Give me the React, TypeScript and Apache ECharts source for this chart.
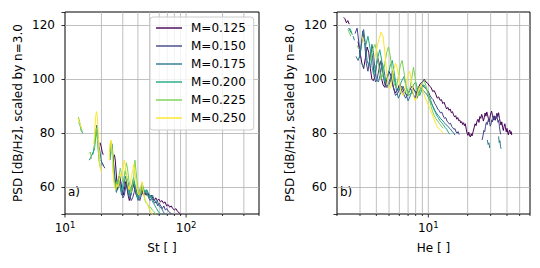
import React, { useEffect, useRef } from 'react';
import * as echarts from 'echarts';

type Pt = [number, number | null];

const FONT = 'DejaVu Sans';

const seriesNames = ['M=0.125', 'M=0.150', 'M=0.175', 'M=0.200', 'M=0.225', 'M=0.250'];
const seriesColors = ['#440154', '#414487', '#2a788e', '#22a884', '#7ad151', '#fde725'];

const yTicks = [60, 80, 100, 120];
const psdRange = [50, 125];
const stRange = [10, 400];
const heRange = [2, 60];
const stGridValues = [10, 20, 30, 40, 50, 60, 70, 80, 90, 100, 200, 300, 400];
const heGridValues = [2, 3, 4, 5, 6, 7, 8, 9, 10, 20, 30, 40, 50, 60];

// ---- panel a) : PSD vs St ----
const stM125: Pt[] = [[19.5, 76.5], [19.9, 75], [20.3, 73], [20.7, 72], [21, null], [25.6, 72], [26.0, 70], [26.4, 66], [26.8, 62], [27.2, 59], [27.7, 61], [28.3, 64], [28.9, 62], [29.5, 59], [30.2, 57], [30.9, 59], [31.6, 62], [32.4, 60], [33.2, 57], [34.0, 55], [34.9, 57], [35.8, 59], [36.8, 61], [37.8, 59], [38.8, 57], [39.9, 56], [41.0, 58], [42.2, 60], [43.4, 58], [44.6, 57], [45.9, 58], [47.2, 57], [48.6, 57.5], [50.0, 56], [51.5, 57], [53.0, 56], [54.6, 55], [56.2, 56], [57.9, 55], [59.6, 55.5], [61.4, 54.5], [63.2, 55], [65.1, 54], [67.0, 54.5], [69.0, 53], [71.1, 53.5], [73.2, 52.5], [75.4, 53], [77.6, 52], [80.0, 51.5], [82.4, 52], [84.8, 51], [87.4, 50.5], [90.0, 50], [92.0, 49.5]];
const stM150: Pt[] = [[19.8, 70], [20.2, 69], [20.6, 68.5], [21.0, 67.5], [21.4, 67], [22, null], [24.5, 73], [24.9, 71], [25.3, 68], [25.8, 64], [26.3, 61], [26.8, 60], [27.4, 62], [28.0, 64], [28.7, 62], [29.4, 59], [30.1, 56], [30.9, 57], [31.7, 60], [32.5, 63], [33.4, 61], [34.3, 57], [35.2, 55], [36.2, 56], [37.2, 58], [38.2, 60], [39.3, 58], [40.4, 56], [41.5, 55], [42.7, 57], [43.9, 59], [45.1, 58], [46.4, 57], [47.7, 58], [49.1, 56], [50.5, 55], [52.0, 56], [53.5, 55], [55.0, 54], [56.6, 54.5], [58.3, 53], [60.0, 54], [61.8, 53], [63.6, 52], [65.5, 53], [67.4, 51.5], [69.4, 52], [71.5, 51], [73.6, 50.5], [75.8, 50], [78.0, 49.5]];
const stM175: Pt[] = [[15.9, 70], [16.3, 71], [16.7, 72], [17.1, 73], [17.5, 74], [17.9, 79], [18.3, 83], [18.7, 79], [19.1, 75], [19.5, 73], [19.9, 70], [20.3, 68], [21, null], [23.8, 72], [24.2, 76.5], [24.6, 75], [25.0, 70], [25.5, 64], [26.0, 60], [26.6, 58], [27.2, 60], [27.9, 62], [28.6, 60], [29.3, 57], [30.0, 58], [30.8, 61], [31.6, 64], [32.4, 62], [33.2, 58], [34.1, 56], [35.0, 57], [36.0, 60], [37.0, 62], [38.0, 60], [39.0, 57], [40.1, 55], [41.2, 56], [42.3, 58], [43.5, 60], [44.7, 59], [46.0, 58], [47.3, 59], [48.6, 58], [50.0, 57], [51.4, 56], [52.9, 57], [54.4, 55.5], [56.0, 54.5], [57.6, 55], [59.3, 53.5], [61.0, 52.5], [62.8, 52], [64.6, 51], [66.5, 50], [68.0, 49.5]];
const stM200: Pt[] = [[13.0, 84], [13.3, 83], [13.6, 81], [14.0, 80], [15, null], [17.0, 72], [17.4, 75], [17.8, 78], [18.2, 80.5], [18.6, 77], [19.0, 72], [19.4, 68], [21, null], [23.6, 70], [24.0, 75.5], [24.4, 76], [24.8, 71], [25.3, 65], [25.8, 61], [26.4, 59], [27.0, 61], [27.7, 63.5], [28.4, 61], [29.1, 58.5], [29.9, 60], [30.7, 63], [31.5, 66], [32.3, 64], [33.1, 60], [34.0, 57.5], [34.9, 59], [35.8, 61], [36.8, 63.5], [37.8, 61], [38.8, 58], [39.8, 56], [40.9, 57], [42.0, 59], [43.1, 61.5], [44.3, 60], [45.5, 58], [46.8, 59], [48.1, 57], [49.4, 56], [50.8, 57], [52.3, 55], [53.8, 54], [55.4, 53], [57.0, 52], [58.7, 51], [60.4, 50.3], [62.0, 49.5]];
const stM225: Pt[] = [[12.9, 86], [13.1, 85], [13.3, 83.5], [13.6, 82], [13.9, 80.5], [14.5, null], [15.8, 72.5], [16.2, 73], [16.6, 70.5], [17, null], [17.4, 74], [17.8, 79], [18.1, 82], [18.4, 80], [18.8, 74], [19.2, 69], [19.6, 67], [21, null], [23.4, 73], [23.8, 77], [24.2, 76], [24.6, 72], [25.0, 66], [25.5, 62], [26.0, 60], [26.6, 62], [27.2, 61], [27.9, 64], [28.6, 67], [29.3, 65], [30.0, 62], [30.7, 63], [31.4, 66], [32.1, 69], [32.8, 67], [33.6, 63], [34.4, 60], [35.2, 58], [36.0, 60], [36.9, 63], [37.8, 70], [38.6, 66], [39.5, 61], [40.4, 58], [41.4, 57], [42.4, 58.5], [43.5, 60], [44.6, 58], [45.8, 55], [47.0, 54], [48.3, 53.5], [49.6, 52], [51.0, 52.5], [52.5, 51.5], [54.0, 51], [55.5, 50.5], [57.0, 49.5]];
const stM250: Pt[] = [[12.8, 85.5], [13.0, 84.5], [13.2, 84], [13.5, 82.5], [13.7, 81.5], [15, null], [17.3, 76], [17.6, 81], [17.9, 86], [18.2, 88], [18.5, 86], [18.8, 80], [19.1, 73], [19.4, 68], [19.8, 66], [20.1, 65.5], [21, null], [23.2, 70], [23.6, 76], [24.0, 77.5], [24.4, 74], [24.8, 68], [25.2, 63], [25.7, 60], [26.2, 59], [26.8, 61], [27.4, 60], [28.0, 62], [28.7, 65], [29.4, 64], [30.1, 67], [30.8, 70], [31.5, 68], [32.2, 64], [33.0, 61], [33.8, 59], [34.6, 61], [35.4, 64], [36.2, 66], [37.0, 68.5], [37.8, 66], [38.6, 62], [39.5, 59], [40.4, 57], [41.3, 58], [42.2, 60], [43.2, 62], [44.2, 59], [45.2, 56], [46.3, 55], [47.4, 54], [48.5, 53], [49.7, 52], [51.0, 51], [52.5, 50], [54.0, 49]];

// ---- panel b) : PSD vs He ----
const heM125: Pt[] = [[2.25, 123], [2.3, 122.5], [2.36, 121], [2.42, 121.8], [2.48, 120.5], [2.55, null], [2.9, 114], [3.0, 110], [3.1, 106], [3.2, 104], [3.3, 108], [3.4, 112], [3.5, 110], [3.6, 104], [3.7, 100], [3.8, 99.5], [3.9, 101], [4.0, 105], [4.1, 108], [4.2, 106], [4.35, 101], [4.5, 98], [4.65, 97], [4.8, 100], [5.0, 103], [5.2, 101], [5.4, 97], [5.6, 95], [5.8, 96], [6.0, 98], [6.3, 97], [6.6, 95], [6.9, 94], [7.2, 96], [7.5, 97.5], [7.8, 96], [8.1, 95], [8.4, 97], [8.7, 98.5], [9.0, 99], [9.3, 100], [9.6, 99], [9.9, 98.5], [10.2, 97.5], [10.5, 97], [10.8, 95.5], [11.1, 95.8], [11.4, 94.5], [11.7, 93], [12.0, 93.5], [12.3, 92.2], [12.6, 92.5], [12.9, 91], [13.2, 91.5], [13.5, 90.2], [13.8, 89], [14.1, 89.6], [14.4, 88.5], [14.7, 89], [15.0, 87.6], [15.3, 88], [15.6, 86.8], [15.9, 86], [16.2, 86.5], [16.5, 85.2], [16.8, 85.8], [17.1, 84.6], [17.4, 84.9], [17.7, 83.8], [18.0, 84.3], [18.3, 83.2], [18.6, 83.9], [18.9, 82.8], [19.2, 83.5], [19.5, 81.5], [19.8, 80], [20.1, 79.2], [20.4, 80.4], [20.7, 79], [21.0, 78.6], [21.3, 79.8], [21.6, 79], [22.0, 80.5], [22.4, 82], [22.8, 83.5], [23.2, 82.8], [23.6, 84.5], [24.0, 85.2], [24.4, 84], [24.8, 86.2], [25.2, 85.5], [25.6, 87], [26.0, 86], [26.4, 84.5], [26.8, 85.8], [27.2, 87.5], [27.6, 86.3], [28.0, 87.9], [28.4, 86.8], [28.8, 85.5], [29.2, 84.2], [29.6, 85.8], [30.0, 87.2], [30.5, 88.2], [31.0, 86.5], [31.5, 85], [32.0, 86.3], [32.5, 84.8], [33.0, 86], [33.5, 87.4], [34.0, 86.2], [34.5, 87.6], [35.0, 85.5], [35.5, 84.3], [36.0, 83], [36.5, 84.2], [37.0, 82.2], [37.5, 81], [38.0, 82.5], [38.5, 83.5], [39.0, 82], [39.5, 80.5], [40.0, 81.8], [40.5, 80.2], [41.0, 79.4], [41.5, 80.8], [42.0, 81.2], [42.5, 79.8], [43.0, 80.6], [43.5, 79.3]];
const heM150: Pt[] = [[2.75, 117], [2.85, 119], [2.95, 113], [3.0, 108], [3.05, 112], [3.15, 118], [3.25, 114], [3.35, 106], [3.45, 103], [3.55, 107], [3.65, 111], [3.75, 108], [3.85, 101], [3.95, 99], [4.05, 100], [4.2, 104], [4.35, 107], [4.5, 102], [4.65, 98], [4.8, 97], [5.0, 99], [5.2, 101], [5.4, 97], [5.6, 94], [5.85, 95], [6.1, 97], [6.4, 95], [6.7, 93], [7.0, 94.5], [7.3, 96.5], [7.6, 95], [7.9, 93], [8.2, 95], [8.5, 97], [8.8, 98], [9.1, 97.5], [9.4, 97], [9.7, 96.2], [10.0, 95.5], [10.3, 94], [10.6, 93], [10.9, 92.4], [11.2, 91], [11.5, 90.2], [11.8, 89], [12.1, 88.4], [12.4, 87.5], [12.7, 87.8], [13.0, 86.4], [13.3, 85.5], [13.6, 85.8], [13.9, 84.5], [14.2, 84], [14.5, 83.4], [14.8, 83.7], [15.1, 82.5], [15.4, 82], [15.7, 81.4], [16.0, 81.7], [16.3, 80.5], [16.6, 80], [16.9, 80.6], [17.2, 79.5], [17.5, null], [25.8, 77.5], [26.2, 79], [26.6, 81], [27.0, 80.5], [27.4, 82.5], [27.8, 84], [28.2, 83.2], [28.6, 84.5], [29.0, 85.5], [29.4, 84], [29.8, 82.6], [30.2, 83.5], [30.6, 85], [31.0, 84.2], [31.4, 85.6], [31.8, 86.5], [32.2, 85], [32.6, 86.2], [33.0, 85.4], [33.4, 86.8], [33.8, 85.3], [34.2, 84], [34.6, 84.8], [35.0, 82.5], [35.4, 80.8], [35.8, 79.6]];
const heM175: Pt[] = [[2.45, 119], [2.52, 118], [2.58, 117.2], [2.62, null], [2.66, 116], [2.72, 114.5], [2.76, null], [2.8, 108.5], [2.9, 107], [3.0, 109], [3.1, 114], [3.2, 118.5], [3.3, 113], [3.4, 107], [3.5, 105], [3.6, 108], [3.7, 113], [3.8, 110], [3.9, 104], [4.0, 100], [4.15, 99], [4.3, 102], [4.45, 106], [4.6, 103], [4.75, 98], [4.9, 97], [5.1, 99], [5.3, 103], [5.5, 100], [5.7, 96], [5.9, 93], [6.15, 95], [6.4, 97.5], [6.7, 95], [7.0, 92], [7.3, 94], [7.6, 96.5], [7.9, 95.5], [8.2, 93], [8.5, 95], [8.8, 97], [9.1, 96], [9.4, 95.2], [9.7, 94.5], [10.0, 93.4], [10.3, 92], [10.6, 91], [10.9, 89.8], [11.2, 88.5], [11.5, 87.6], [11.8, 86.8], [12.1, 86.2], [12.4, 85.4], [12.8, 84.8], [13.2, 84], [13.6, 83.2], [14.0, 82.8], [14.4, 82], [14.8, 81.5], [15.2, 80.6], [15.6, 80.2], [16.0, 79.3], [16.3, null], [28.3, 77.5], [28.7, 75.8], [29.1, 76.4], [29.5, 74.5], [29.8, null], [34.5, 78.8], [34.9, 76.5], [35.3, 77.2], [35.7, 75], [36.1, 74.2]];
const heM200: Pt[] = [[2.5, 119], [2.56, 118], [2.62, 116.5], [2.68, null], [3.05, 106], [3.12, 105.5], [3.18, 104.5], [3.24, null], [3.3, 112], [3.45, 116], [3.6, 111], [3.7, 105], [3.8, 102], [3.95, 104], [4.1, 108], [4.25, 111], [4.4, 107], [4.55, 101], [4.7, 99], [4.9, 101], [5.1, 105], [5.3, 107], [5.5, 102], [5.7, 97], [5.95, 96], [6.2, 99], [6.5, 101], [6.8, 97], [7.1, 94], [7.4, 95], [7.7, 98], [8.0, 99], [8.3, 96], [8.6, 94], [8.9, 96], [9.2, 98], [9.5, 97.2], [9.8, 95.8], [10.1, 94], [10.4, 92.5], [10.7, 90.5], [11.0, 89], [11.3, 87.8], [11.6, 86.5], [11.9, 85.8], [12.2, 84.8], [12.6, 84], [13.0, 83.2], [13.4, 82.2], [13.8, 81.5], [14.2, 80.4], [14.6, 79.6]];
const heM225: Pt[] = [[2.42, 118.5], [2.48, 117.5], [2.55, 116], [2.6, null], [2.85, 112.5], [2.92, 111.6], [2.98, 111], [3.02, null], [3.6, 107], [3.75, 111], [3.9, 113], [4.05, 110], [4.2, 104], [4.35, 100], [4.5, 102], [4.65, 106], [4.8, 110], [4.95, 112], [5.1, 109], [5.3, 103], [5.5, 98], [5.7, 97], [5.9, 101], [6.1, 105], [6.3, 107], [6.5, 103], [6.75, 97], [7.0, 94], [7.25, 97], [7.5, 101], [7.7, 104.5], [7.9, 101], [8.15, 96], [8.4, 94], [8.7, 96], [9.0, 99], [9.3, 99.5], [9.6, 97.5], [9.9, 95], [10.2, 92.5], [10.5, 90], [10.8, 88], [11.1, 86.5], [11.4, 85.5], [11.8, 84.5], [12.2, 83.5], [12.6, 82.6], [13.0, 81.8]];
const heM250: Pt[] = [[3.1, 116], [3.17, 114.5], [3.24, 113.5], [3.3, null], [3.9, 108], [4.05, 112], [4.2, 115], [4.35, 117.5], [4.5, 116], [4.65, 110], [4.8, 102], [4.95, 97], [5.1, 96.5], [5.25, 99], [5.4, 103], [5.6, 106], [5.8, 104], [6.0, 99], [6.2, 95], [6.45, 94], [6.7, 97], [6.95, 101], [7.2, 103], [7.45, 99], [7.7, 94], [7.95, 92], [8.2, 94], [8.5, 97], [8.8, 98], [9.1, 96], [9.4, 93.5], [9.7, 92], [10.0, 90.5], [10.3, 89], [10.6, 87.5], [10.9, 86], [11.2, 84.5], [11.5, 83.2], [11.8, 82.2], [12.1, 81.5], [12.4, 81], [12.7, 80.6], [13.0, 80.2]];

const stSeries = [stM125, stM150, stM175, stM200, stM225, stM250];
const heSeries = [heM125, heM150, heM175, heM200, heM225, heM250];

const toData = (pts: Pt[]) => pts.map(([x, y]) => [x, y === null ? '-' : y]);

const isPow10 = (v: number) => {
  const e = Math.log10(v);
  return Math.abs(e - Math.round(e)) < 1e-6;
};

const labelStyle = { color: '#000', fontFamily: FONT, fontSize: 12 };

const makeX = (gridIndex: number, range: number[], name: string) => ({
  type: 'log',
  logBase: 10,
  gridIndex,
  min: range[0],
  max: range[1],
  name,
  nameLocation: 'middle',
  nameGap: 28,
  nameTextStyle: { ...labelStyle },
  axisLine: { show: false },
  axisTick: { show: false },
  splitLine: { show: false },
  minorTick: { show: false },
  minorSplitLine: { show: false },
  axisLabel: {
    ...labelStyle,
    interval: 0,
    margin: 6,
    formatter: (v: number) => (isPow10(v) ? `{b|10}{s|${Math.round(Math.log10(v))}}` : ''),
    rich: {
      b: { fontSize: 12, fontFamily: FONT, color: '#000', lineHeight: 14, verticalAlign: 'bottom' },
      s: { fontSize: 8.5, fontFamily: FONT, color: '#000', lineHeight: 9, verticalAlign: 'top' },
    },
  },
});

const makeY = (gridIndex: number, name: string) => ({
  type: 'value',
  gridIndex,
  min: psdRange[0],
  max: psdRange[1],
  name,
  nameLocation: 'middle',
  nameGap: 41,
  nameTextStyle: { ...labelStyle },
  axisLine: { show: false },
  axisTick: { show: true, length: 3.5, lineStyle: { color: '#000', width: 0.8 } },
  axisLabel: {
    ...labelStyle,
    margin: 10,
    formatter: (v: number) => (yTicks.includes(v) ? String(v) : ''),
  },
  splitLine: {
    show: true,
    showMinLine: false,
    showMaxLine: false,
    lineStyle: { color: '#b0b0b0', width: 0.8 },
  },
});

const gridLineSeries = (idx: number, values: number[], xr: number[]) => ({
  type: 'custom',
  name: 'grid' + idx,
  xAxisIndex: idx,
  yAxisIndex: idx,
  z: 1,
  silent: true,
  clip: false,
  data: values.map((v) => [v, psdRange[0]]),
  renderItem: (params: any, api: any) => {
    const v = api.value(0);
    const top = api.coord([v, psdRange[1]]);
    const bottom = api.coord([v, psdRange[0]]);
    const children: any[] = [];
    if (v > xr[0] && v < xr[1]) {
      children.push({
        type: 'line',
        shape: { x1: top[0], y1: top[1], x2: bottom[0], y2: bottom[1] },
        style: { stroke: '#b0b0b0', lineWidth: 0.8 },
      });
    }
    children.push({
      type: 'line',
      shape: { x1: bottom[0], y1: bottom[1], x2: bottom[0], y2: bottom[1] + (isPow10(v) ? 3.5 : 2) },
      style: { stroke: '#000', lineWidth: 0.8 },
    });
    return { type: 'group', children };
  },
});

const lineSeries = (idx: number, sets: Pt[][]) =>
  sets.map((pts, i) => ({
    type: 'line',
    name: seriesNames[i],
    xAxisIndex: idx,
    yAxisIndex: idx,
    data: toData(pts),
    symbol: 'none',
    showSymbol: false,
    connectNulls: false,
    clip: true,
    z: 2,
    color: seriesColors[i],
    lineStyle: { color: seriesColors[i], width: 1 },
    emphasis: { disabled: true },
  }));

const option: any = {
  animation: false,
  backgroundColor: '#fff',
  grid: [
    { left: 65, top: 12, width: 194, height: 202, show: true, borderColor: '#000', borderWidth: 1, backgroundColor: 'transparent' },
    { left: 337, top: 12, width: 193, height: 202, show: true, borderColor: '#000', borderWidth: 1, backgroundColor: 'transparent' },
  ],
  xAxis: [makeX(0, stRange, 'St [ ]'), makeX(1, heRange, 'He [ ]')],
  yAxis: [makeY(0, 'PSD [dB/Hz], scaled by n=3.0'), makeY(1, 'PSD [dB/Hz], scaled by n=8.0')],
  legend: {
    data: seriesNames,
    orient: 'vertical',
    left: 150,
    top: 17,
    padding: [5, 8, 6, 6],
    itemWidth: 26,
    itemHeight: 12,
    itemGap: 6,
    icon: 'path://M0,5.3 L26,5.3 L26,6.7 L0,6.7 Z',
    backgroundColor: 'rgba(255,255,255,0.8)',
    borderColor: '#cccccc',
    borderWidth: 1,
    borderRadius: 3,
    textStyle: { ...labelStyle, padding: [0, 0, 0, 4] },
    selectedMode: false,
  },
  graphic: [
    { type: 'text', left: 68, top: 186, style: { text: 'a)', fill: '#000', fontSize: 12, fontFamily: FONT } },
    { type: 'text', left: 340, top: 186, style: { text: 'b)', fill: '#000', fontSize: 12, fontFamily: FONT } },
  ],
  series: [
    gridLineSeries(0, stGridValues, stRange),
    gridLineSeries(1, heGridValues, heRange),
    ...lineSeries(0, stSeries),
    ...lineSeries(1, heSeries),
  ],
};

export default function App() {
  const ref = useRef<HTMLDivElement>(null);
  useEffect(() => {
    if (!ref.current) return;
    const chart = echarts.init(ref.current, null, { renderer: 'svg' });
    chart.setOption(option);
    return () => chart.dispose();
  }, []);
  return <div ref={ref} style={{ position: 'absolute', left: 0, top: 0, width: 540, height: 268 }} />;
}
